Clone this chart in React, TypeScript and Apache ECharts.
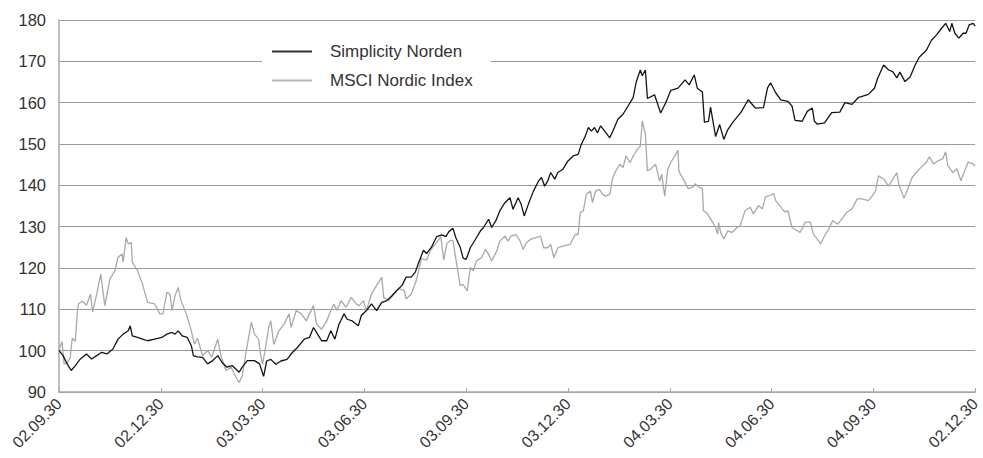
import React, { useEffect, useRef } from "react";
import * as echarts from "echarts";

// x = quarters since 02.09.30, y = indexed value (start = 100)
const quarterLabels = ["02.09.30", "02.12.30", "03.03.30", "03.06.30", "03.09.30", "03.12.30", "04.03.30", "04.06.30", "04.09.30", "02.12.30"];

const simplicityNorden: [number, number][] = [
  [0.00, 100], [0.04, 98.8], [0.08, 96.8], [0.12, 95.2], [0.16, 96.4], [0.21, 98], [0.27, 99.2], [0.32, 98],
  [0.37, 98.8], [0.42, 99.6], [0.47, 99.2], [0.53, 100.4], [0.58, 102.8], [0.63, 104], [0.68, 104.8], [0.70, 106],
  [0.72, 103.6], [0.77, 103.2], [0.82, 102.8], [0.87, 102.4], [0.94, 102.8], [1.01, 103.2], [1.06, 104], [1.11, 104.4],
  [1.14, 104], [1.17, 104.8], [1.21, 103.6], [1.26, 103.2], [1.30, 101.2], [1.32, 98.8], [1.36, 98.5], [1.41, 98.4],
  [1.46, 96.8], [1.51, 97.6], [1.56, 98.8], [1.60, 97.2], [1.65, 96], [1.70, 96.4], [1.77, 94.8], [1.80, 96],
  [1.85, 97.6], [1.92, 97.6], [1.97, 96.8], [2.01, 93.8], [2.04, 97.5], [2.08, 97.9], [2.13, 96.7], [2.18, 97.5],
  [2.24, 97.9], [2.29, 99.5], [2.34, 100.7], [2.41, 102.8], [2.46, 103.2], [2.50, 105.6], [2.55, 103.6], [2.58, 102.4],
  [2.63, 102.4], [2.67, 104.8], [2.71, 102.8], [2.75, 106.4], [2.80, 108.9], [2.83, 107.6], [2.88, 107.2], [2.94, 106],
  [2.97, 108.5], [3.02, 109.7], [3.07, 111.3], [3.12, 109.7], [3.17, 111.7], [3.22, 112.1], [3.27, 113.3], [3.32, 114.6],
  [3.37, 115.8], [3.41, 117.8], [3.46, 117.8], [3.50, 119], [3.53, 121.1], [3.58, 124.3], [3.61, 123.5], [3.66, 125.1],
  [3.71, 127.6], [3.76, 128], [3.80, 127.6], [3.83, 128.8], [3.87, 129.6], [3.90, 127.2], [3.94, 125.1], [3.97, 122.4],
  [4.00, 122.1], [4.04, 124.9], [4.09, 126.9], [4.14, 129], [4.17, 129.8], [4.22, 131.8], [4.25, 129.8], [4.29, 131.4],
  [4.33, 133.8], [4.38, 135.8], [4.43, 137], [4.46, 134.2], [4.51, 137], [4.54, 135.4], [4.57, 132.6], [4.61, 135.4],
  [4.66, 138.6], [4.71, 141], [4.74, 141.9], [4.77, 139.8], [4.80, 141], [4.83, 143.1], [4.87, 141.5], [4.90, 143.1],
  [4.95, 143.9], [5.00, 145.9], [5.05, 147.1], [5.10, 147.5], [5.13, 149.9], [5.17, 151.9], [5.20, 154], [5.23, 153.1],
  [5.26, 154], [5.29, 152.7], [5.32, 154.4], [5.36, 153.1], [5.41, 151.5], [5.44, 153.1], [5.49, 156], [5.54, 157.2],
  [5.59, 159.2], [5.64, 161.2], [5.67, 165], [5.71, 167.9], [5.73, 166.5], [5.76, 167.9], [5.78, 161], [5.85, 161.9],
  [5.91, 157.5], [5.96, 160], [6.01, 163], [6.08, 163.5], [6.15, 165.5], [6.19, 164.3], [6.24, 166.7], [6.27, 163.5],
  [6.32, 162.6], [6.34, 155.3], [6.38, 155.5], [6.40, 158.9], [6.45, 151.8], [6.49, 154.7], [6.53, 151.1], [6.57, 153.5],
  [6.62, 155.3], [6.70, 157.7], [6.77, 160.7], [6.84, 158.7], [6.92, 158.8], [6.96, 163.6], [6.99, 164.8], [7.04, 162.4],
  [7.09, 160.7], [7.16, 160.3], [7.20, 159.2], [7.23, 155.7], [7.30, 155.5], [7.35, 157.9], [7.40, 158.7], [7.42, 155.5],
  [7.45, 154.8], [7.52, 155.1], [7.59, 157.6], [7.67, 157.7], [7.72, 160], [7.79, 159.6], [7.85, 161.2], [7.95, 162],
  [8.01, 163.5], [8.04, 165.8], [8.10, 169.1], [8.15, 167.9], [8.19, 167.5], [8.23, 166], [8.26, 167.4], [8.31, 165.1],
  [8.36, 166.2], [8.41, 169.1], [8.45, 171], [8.52, 172.7], [8.57, 175.1], [8.62, 176.4], [8.67, 178], [8.71, 179.2],
  [8.75, 177.2], [8.77, 179.2], [8.80, 176.8], [8.84, 175.6], [8.88, 176.8], [8.91, 176.8], [8.94, 178.8], [8.98, 179.2],
  [9.00, 178.5],
];

const msciNordic: [number, number][] = [
  [0.00, 100], [0.03, 102.2], [0.05, 96.8], [0.08, 97], [0.11, 98.3], [0.13, 103], [0.16, 102.3], [0.18, 109.1],
  [0.19, 111.3], [0.23, 112], [0.27, 111], [0.31, 113.7], [0.33, 109.3], [0.37, 113.7], [0.41, 118.5], [0.45, 110.9],
  [0.50, 117.3], [0.55, 119.4], [0.58, 122.6], [0.62, 123.4], [0.63, 121.4], [0.66, 127.4], [0.68, 125.8], [0.71, 126.2],
  [0.72, 121.4], [0.77, 119.4], [0.82, 116.1], [0.87, 111.7], [0.94, 111.3], [0.99, 108.9], [1.02, 108.9], [1.06, 114.1],
  [1.09, 113.7], [1.11, 109.7], [1.14, 113.3], [1.17, 115.3], [1.20, 112], [1.25, 108.9], [1.30, 104.8], [1.33, 101.6],
  [1.36, 103], [1.41, 98.8], [1.46, 100], [1.50, 98.4], [1.56, 102.8], [1.59, 98.8], [1.64, 95.2], [1.69, 96],
  [1.74, 93.5], [1.77, 92.3], [1.80, 93.9], [1.84, 100], [1.89, 106.9], [1.92, 104], [1.96, 102.8], [1.98, 99],
  [2.00, 96.7], [2.04, 102.4], [2.06, 105.6], [2.08, 107.2], [2.11, 101.5], [2.16, 104.8], [2.21, 106.4], [2.26, 108.9],
  [2.28, 105.6], [2.33, 109.7], [2.38, 108.9], [2.43, 107.2], [2.46, 108.9], [2.50, 110.9], [2.53, 106.4], [2.58, 105.2],
  [2.63, 107.2], [2.67, 109.7], [2.70, 111.3], [2.73, 109.7], [2.77, 112.1], [2.82, 110.5], [2.87, 112.9], [2.92, 111.3],
  [2.95, 110.9], [2.99, 112.1], [3.02, 109.7], [3.07, 113.7], [3.12, 115.8], [3.17, 117.8], [3.19, 112.9], [3.24, 112.1],
  [3.29, 113.7], [3.34, 115], [3.39, 114.6], [3.41, 112.5], [3.46, 113.7], [3.51, 117], [3.56, 122.3], [3.61, 121.9],
  [3.65, 124.3], [3.70, 125.9], [3.75, 127.6], [3.78, 121.9], [3.81, 125.9], [3.85, 126.7], [3.87, 126.7], [3.90, 121.9],
  [3.94, 115.8], [3.97, 116], [4.01, 114.4], [4.04, 120.1], [4.07, 119.3], [4.10, 121.7], [4.15, 122.5], [4.19, 124.5],
  [4.22, 123.3], [4.25, 121.7], [4.30, 124.1], [4.33, 126.5], [4.38, 127.7], [4.41, 126.5], [4.44, 127.7], [4.49, 128.1],
  [4.53, 126.5], [4.56, 124.5], [4.59, 126.1], [4.63, 126.9], [4.68, 127.3], [4.73, 127.7], [4.76, 124.9], [4.80, 124.9],
  [4.83, 125.7], [4.86, 122.5], [4.90, 124.9], [4.95, 125.3], [5.02, 125.7], [5.07, 128.1], [5.10, 128.1], [5.12, 133.4],
  [5.15, 133.8], [5.18, 137.8], [5.22, 138.6], [5.24, 135.8], [5.27, 138.6], [5.31, 139], [5.34, 137.8], [5.37, 137.4],
  [5.41, 137.8], [5.44, 141.9], [5.47, 143.5], [5.51, 145.1], [5.54, 144.3], [5.57, 147.1], [5.61, 145.5], [5.64, 147.1],
  [5.67, 148.3], [5.71, 149.5], [5.73, 155.6], [5.76, 152.3], [5.78, 143.5], [5.81, 143.9], [5.86, 145.1], [5.90, 141],
  [5.92, 142.7], [5.95, 137.4], [5.98, 143.9], [6.01, 145.6], [6.06, 147.5], [6.08, 148.5], [6.09, 143.3], [6.14, 141.2],
  [6.18, 139.2], [6.23, 139.6], [6.25, 140.4], [6.28, 139.6], [6.32, 139.2], [6.33, 133.9], [6.37, 133.1], [6.42, 131.1],
  [6.45, 129.8], [6.47, 128.2], [6.48, 131], [6.50, 128.5], [6.53, 127], [6.57, 129], [6.61, 128.6], [6.66, 129.8],
  [6.69, 130.2], [6.74, 133.9], [6.79, 134.7], [6.82, 133.1], [6.87, 135.1], [6.91, 134.3], [6.94, 137.2], [6.99, 137.6],
  [7.02, 138], [7.04, 136.3], [7.08, 135.1], [7.13, 133.5], [7.16, 133.9], [7.20, 129.8], [7.25, 129], [7.28, 128.6],
  [7.33, 131.1], [7.38, 131.1], [7.41, 128.2], [7.45, 127], [7.48, 125.8], [7.52, 127.8], [7.56, 129.4], [7.60, 131.5],
  [7.65, 130.6], [7.69, 131.9], [7.74, 133.5], [7.79, 134.3], [7.84, 136.7], [7.89, 136.7], [7.95, 136.3], [7.99, 137.5],
  [8.02, 138.6], [8.05, 142.3], [8.10, 141.5], [8.15, 139.8], [8.18, 141.1], [8.23, 143.1], [8.25, 140.2], [8.30, 136.9],
  [8.33, 138.6], [8.38, 141.9], [8.42, 143.1], [8.47, 144.4], [8.52, 145.6], [8.55, 146.9], [8.59, 145.2], [8.64, 146],
  [8.68, 146.4], [8.71, 148.1], [8.73, 144.8], [8.78, 143.1], [8.82, 144], [8.86, 141.1], [8.89, 143.1], [8.93, 145.6],
  [8.98, 145.2], [9.00, 144.6],
];

const seriesNames = ["Simplicity Norden", "MSCI Nordic Index"];
const yMin = 90;
const yMax = 180;
const yStep = 10;

export default function App() {
  const ref = useRef<HTMLDivElement>(null);

  useEffect(() => {
    document.body.style.margin = "0";
    if (!ref.current) return;
    const chart = echarts.init(ref.current, null, { renderer: "svg" });
    const font = "'Liberation Sans', Arial, Helvetica, sans-serif";
    chart.setOption({
      animation: false,
      backgroundColor: "#ffffff",
      grid: { left: 59, right: 4, top: 20, bottom: 66, containLabel: false },
      legend: {
        orient: "vertical",
        left: 262,
        top: 37,
        padding: [6, 18, 6, 10],
        backgroundColor: "#ffffff",
        itemWidth: 40,
        itemHeight: 2,
        itemGap: 12,
        selectedMode: false,
        textStyle: { fontFamily: font, fontSize: 17, color: "#333333", padding: [0, 0, 0, 13] },
        data: [
          { name: seriesNames[0], icon: "rect", itemStyle: { color: "#333333" } },
          { name: seriesNames[1], icon: "rect", itemStyle: { color: "#b5b5b5" } },
        ],
      },
      xAxis: {
        type: "value",
        min: 0,
        max: 9,
        interval: 1,
        axisLine: { show: true, lineStyle: { color: "#a8a8a8", width: 1.5 } },
        axisTick: { show: true, inside: true, length: 4, lineStyle: { color: "#a8a8a8" } },
        splitLine: { show: false },
        axisLabel: {
          rotate: 45,
          margin: 9,
          fontFamily: font,
          fontSize: 16,
          color: "#333333",
          formatter: (v: number) => quarterLabels[Math.round(v)] ?? "",
        },
      },
      yAxis: {
        type: "value",
        min: yMin,
        max: yMax,
        interval: yStep,
        axisLine: { show: true, lineStyle: { color: "#a8a8a8", width: 1.5 } },
        axisTick: { show: false },
        splitLine: { show: true, lineStyle: { color: "#9a9a9a", width: 1 } },
        axisLabel: { margin: 13, fontFamily: font, fontSize: 16.5, color: "#333333" },
      },
      series: [
        {
          name: seriesNames[1],
          type: "line",
          data: msciNordic,
          showSymbol: false,
          symbol: "none",
          lineStyle: { color: "#a9a9a9", width: 1.3 },
          itemStyle: { color: "#a9a9a9" },
          z: 2,
        },
        {
          name: seriesNames[0],
          type: "line",
          data: simplicityNorden,
          showSymbol: false,
          symbol: "none",
          lineStyle: { color: "#141414", width: 1.3 },
          itemStyle: { color: "#141414" },
          z: 3,
        },
      ],
    });
    return () => chart.dispose();
  }, []);

  return <div ref={ref} style={{ width: 983, height: 458 }} />;
}
